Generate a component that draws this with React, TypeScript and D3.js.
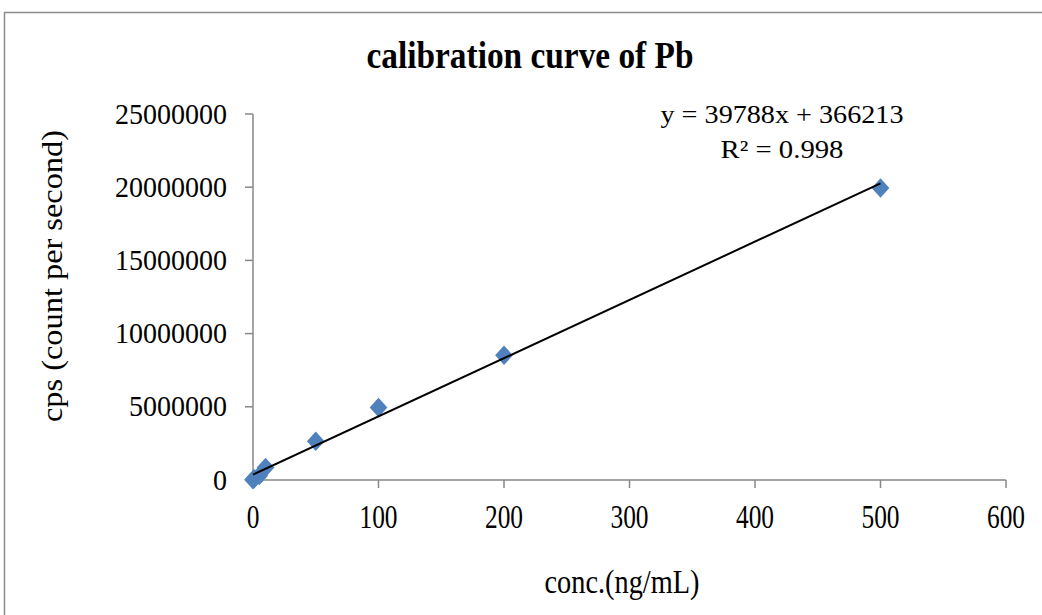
import React from "react";
import * as d3 from "d3";

const concentrations = [0, 1, 5, 10, 50, 100, 200, 500];
const cpsValues = [20000, 80000, 300000, 850000, 2650000, 4950000, 8520000, 19950000];
const xTicks = [0, 100, 200, 300, 400, 500, 600];
const yTicks = [0, 5000000, 10000000, 15000000, 20000000, 25000000];
const slope = 39788;
const intercept = 366213;
const fitRange = [0, 500];
const titleText = "calibration curve of Pb";
const equationText = "y = 39788x + 366213";
const r2Text = "R² = 0.998";
const xTitle = "conc.(ng/mL)";
const yTitle = "cps (count per second)";

const W = 1042;
const H = 615;
const FONT = "'Liberation Serif', 'Times New Roman', serif";

export default function App() {
  const x = d3.scaleLinear().domain([0, 600]).range([253, 1006]);
  const y = d3.scaleLinear().domain([0, 25000000]).range([480, 114]);
  const axisColor = "#878787";
  const diamond = d3.symbol().type(d3.symbolDiamond2).size(200)() as string;
  const line = d3
    .line<number>()
    .x((d) => x(d))
    .y((d) => y(slope * d + intercept));

  return (
    <svg
      width={W}
      height={H}
      style={{ position: "absolute", left: 0, top: 0, background: "#fff" }}
      fontFamily={FONT}
    >
      <rect x={0} y={0} width={W} height={H} fill="#fff" />
      {/* chart border */}
      <path d={`M4.5,${H} V12.5 H${W}`} fill="none" stroke="#8c8c8c" strokeWidth={1.5} />

      {/* title */}
      <text
        x={530}
        y={68}
        textAnchor="middle"
        fontWeight="bold"
        fontSize={37}
        textLength={327}
        lengthAdjust="spacingAndGlyphs"
        fill="#000"
      >
        {titleText}
      </text>

      {/* y axis */}
      <line x1={x(0)} x2={x(0)} y1={y(0)} y2={y(25000000)} stroke={axisColor} strokeWidth={1.5} />
      {yTicks.map((t) => (
        <g key={"y" + t}>
          <line x1={x(0) - 8} x2={x(0)} y1={y(t)} y2={y(t)} stroke={axisColor} strokeWidth={1.5} />
          <text
            x={227}
            y={y(t) + 9.5}
            textAnchor="end"
            fontSize={29}
            textLength={String(t).length * 14}
            lengthAdjust="spacingAndGlyphs"
            fill="#000"
          >
            {t}
          </text>
        </g>
      ))}

      {/* x axis */}
      <line x1={x(0)} x2={x(600)} y1={y(0)} y2={y(0)} stroke={axisColor} strokeWidth={1.5} />
      {xTicks.map((t) => (
        <g key={"x" + t}>
          <line x1={x(t)} x2={x(t)} y1={y(0)} y2={y(0) + 8} stroke={axisColor} strokeWidth={1.5} />
          <text
            x={x(t)}
            y={528}
            textAnchor="middle"
            fontSize={34}
            textLength={String(t).length * 12.7}
            lengthAdjust="spacingAndGlyphs"
            fill="#000"
          >
            {t}
          </text>
        </g>
      ))}

      {/* points */}
      {concentrations.map((c, i) => (
        <path
          key={"p" + i}
          d={diamond}
          transform={`translate(${x(c)},${y(cpsValues[i])}) scale(1,1.1)`}
          fill="#4F81BD"
        />
      ))}

      {/* trendline */}
      <path d={line(fitRange) as string} fill="none" stroke="#000" strokeWidth={2} />

      {/* equation */}
      <text
        x={782}
        y={123}
        textAnchor="middle"
        fontSize={25}
        textLength={243}
        lengthAdjust="spacingAndGlyphs"
        fill="#000"
      >
        {equationText}
      </text>
      <text
        x={782}
        y={158}
        textAnchor="middle"
        fontSize={25}
        textLength={123}
        lengthAdjust="spacingAndGlyphs"
        fill="#000"
      >
        {r2Text}
      </text>

      {/* axis titles */}
      <text
        x={622}
        y={593}
        textAnchor="middle"
        fontSize={33}
        textLength={155}
        lengthAdjust="spacingAndGlyphs"
        fill="#000"
      >
        {xTitle}
      </text>
      <text
        transform={`translate(62,276) rotate(-90)`}
        textAnchor="middle"
        fontSize={29}
        textLength={292}
        lengthAdjust="spacingAndGlyphs"
        fill="#000"
      >
        {yTitle}
      </text>
    </svg>
  );
}
